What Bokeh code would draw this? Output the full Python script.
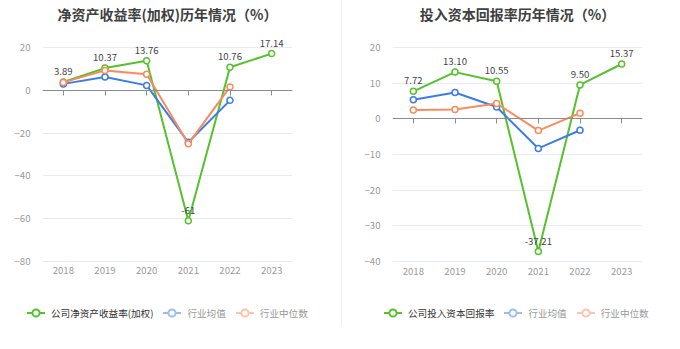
from bokeh.plotting import figure
from bokeh.layouts import row, column
from bokeh.models import (ColumnDataSource, FixedTicker, Div, Range1d, FactorRange)
from bokeh.embed import file_html
from bokeh.resources import INLINE
from bokeh.core.properties import value

# ---------------- data ----------------
years = ["2018", "2019", "2020", "2021", "2022", "2023"]
years_ind = ["2018", "2019", "2020", "2021", "2022"]

roe_company = [3.89, 10.37, 13.76, -61.0, 10.76, 17.14]
roe_company_labels = ["3.89", "10.37", "13.76", "-61", "10.76", "17.14"]
roe_ind_mean = [3.0, 6.2, 2.3, -24.3, -4.7]
roe_ind_median = [3.7, 9.3, 7.5, -25.0, 1.6]
roe_ticks = [20, 0, -20, -40, -60, -80]

roic_company = [7.72, 13.10, 10.55, -37.21, 9.50, 15.37]
roic_company_labels = ["7.72", "13.10", "10.55", "-37.21", "9.50", "15.37"]
roic_ind_mean = [5.35, 7.4, 3.3, -8.3, -3.2]
roic_ind_median = [2.5, 2.6, 4.3, -3.3, 1.6]
roic_ticks = [20, 10, 0, -10, -20, -30, -40]

roe_title = "净资产收益率(加权)历年情况（%）"
roic_title = "投入资本回报率历年情况（%）"
roe_legend = ["公司净资产收益率(加权)", "行业均值", "行业中位数"]
roic_legend = ["公司投入资本回报率", "行业均值", "行业中位数"]

# ---------------- style / layout ----------------
FONT = "Noto Sans CJK SC"
GREEN = "#55c22a"
BLUE = "#3b7de8"
ORANGE = "#fa8a5c"
SMALL = "9.6px"
H = 349
FRAME_TOP = 25      # frame starts here (room for data labels above top grid line)
GRID_TOP = 47       # pixel row of the highest tick
GRID_BOTTOM = 261   # pixel row of the lowest tick
CHART_H = 306       # chart part; legend strip below it
LEG_H = H - CHART_H


def make_chart(title, company, labels, mean, median, ticks, width, bl, br):
    top, bottom = max(ticks), min(ticks)
    ppu = (GRID_BOTTOM - GRID_TOP) / (top - bottom)
    ymax = top + (GRID_TOP - FRAME_TOP) / ppu
    ymin = bottom - (CHART_H - GRID_BOTTOM) / ppu
    y0_px = GRID_TOP + top * ppu

    p = figure(x_range=FactorRange(*years), y_range=Range1d(ymin, ymax),
               width=width, height=CHART_H, output_backend="svg",
               toolbar_location=None, min_border_left=bl, min_border_right=br,
               min_border_top=FRAME_TOP, min_border_bottom=0)
    p.outline_line_color = None
    p.background_fill_color = "white"
    p.border_fill_color = "white"

    p.title.text = title
    p.title.align = "center"
    p.title.vertical_align = "top"
    p.title.text_font = FONT
    p.title.text_font_size = "14px"
    p.title.text_font_style = "bold"
    p.title.text_color = "#404040"
    p.title.offset = -6
    p.title.standoff = 0

    # y axis
    p.yaxis.axis_line_color = None
    p.yaxis.major_tick_line_color = None
    p.yaxis.minor_tick_line_color = None
    p.yaxis.major_label_text_color = "#9a9a9a"
    p.yaxis.major_label_text_font = FONT
    p.yaxis.major_label_text_font_size = SMALL
    p.yaxis.major_label_standoff = 6
    p.yaxis.ticker = FixedTicker(ticks=ticks)
    p.ygrid.ticker = FixedTicker(ticks=ticks)
    p.ygrid.grid_line_color = "#e6ebf5"
    p.xgrid.grid_line_color = None

    # x axis sits on the zero line, labels pushed down below the lowest grid line
    xa = p.xaxis[0]
    xa.fixed_location = 0
    xa.axis_line_color = "#8c8c8c"
    xa.major_tick_line_color = "#8c8c8c"
    xa.major_tick_in = 0
    xa.major_tick_out = 5
    xa.minor_tick_line_color = None
    xa.major_label_text_color = "#9a9a9a"
    xa.major_label_text_font = FONT
    xa.major_label_text_font_size = SMALL
    xa.major_label_standoff = int(round(GRID_BOTTOM + 6 - y0_px - 5))

    csrc = ColumnDataSource(dict(x=years, y=company, t=labels))
    msrc = ColumnDataSource(dict(x=years_ind, y=mean))
    dsrc = ColumnDataSource(dict(x=years_ind, y=median))

    p.line("x", "y", source=csrc, line_color=GREEN, line_width=2)
    p.scatter("x", "y", source=csrc, size=6, fill_color="white",
              line_color=GREEN, line_width=1.5)
    p.line("x", "y", source=msrc, line_color=BLUE, line_width=2)
    p.scatter("x", "y", source=msrc, size=6, fill_color="white",
              line_color=BLUE, line_width=1.5)
    p.line("x", "y", source=dsrc, line_color=ORANGE, line_width=2)
    p.scatter("x", "y", source=dsrc, size=6, fill_color="white",
              line_color=ORANGE, line_width=1.5)
    p.text("x", "y", text="t", source=csrc, text_align="center",
           text_baseline="bottom", y_offset=-7, text_font=value(FONT),
           text_font_size=SMALL, text_color="#444444")
    return p


def make_legend(names, width, left_pad):
    styles = [(GREEN, "#333333", 1.0), (BLUE, "#999999", 0.5),
              (ORANGE, "#999999", 0.5)]
    parts = []
    for name, (c, tc, op) in zip(names, styles):
        icon = (f'<svg width="18" height="14" style="opacity:{op};flex:none">'
                f'<line x1="0" y1="7" x2="18" y2="7" stroke="{c}" stroke-width="2"/>'
                f'<circle cx="9" cy="7" r="3.6" fill="white" stroke="{c}" '
                f'stroke-width="2"/></svg>')
        parts.append(
            f'<span style="display:inline-flex;align-items:center;'
            f'margin-right:10px">{icon}'
            f'<span style="margin-left:6px;color:{tc}">{name}</span></span>')
    html = (f'<div style="display:flex;align-items:center;height:14px;'
            f'padding-left:{left_pad}px;font-family:\'{FONT}\';'
            f'font-size:{SMALL};line-height:14px;white-space:nowrap">'
            + "".join(parts) + '</div>')
    return Div(text=html, width=width, height=LEG_H, margin=0)


p1 = make_chart(roe_title, roe_company, roe_company_labels, roe_ind_mean,
                roe_ind_median, roe_ticks, 341, 42, 49)
l1 = make_legend(roe_legend, 341, 27)
p2 = make_chart(roic_title, roic_company, roic_company_labels, roic_ind_mean,
                roic_ind_median, roic_ticks, 338, 50, 38)
l2 = make_legend(roic_legend, 338, 42)
sep = Div(width=1, height=325, margin=0, styles={"background-color": "#f0f0f0"})
p = row(column(p1, l1, spacing=0), sep, column(p2, l2, spacing=0))

open("out.html", "w").write(file_html(p, INLINE))
